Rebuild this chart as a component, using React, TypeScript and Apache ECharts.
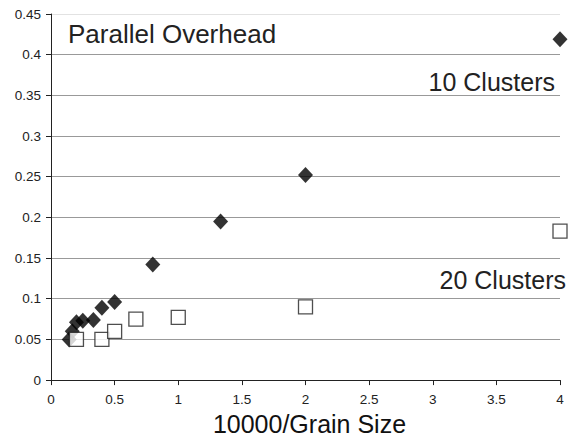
import React, { useEffect, useRef } from "react";
import * as echarts from "echarts";

const xTen = [0.143, 0.167, 0.2, 0.25, 0.333, 0.4, 0.5, 0.8, 1.333, 2, 4];
const yTen = [0.05, 0.06, 0.071, 0.073, 0.074, 0.089, 0.096, 0.142, 0.195, 0.252, 0.419];
const xTwenty = [0.2, 0.4, 0.5, 0.667, 1, 2, 4];
const yTwenty = [0.05, 0.05, 0.06, 0.075, 0.077, 0.09, 0.183];
const titleText = "Parallel Overhead";
const label10 = "10 Clusters";
const label20 = "20 Clusters";
const xName = "10000/Grain Size";

const FONT = "'Liberation Sans', Arial, Helvetica, sans-serif";

export default function App() {
  const ref = useRef<HTMLDivElement>(null);
  useEffect(() => {
    if (!ref.current) return;
    const chart = echarts.init(ref.current, null, { renderer: "svg" });
    const gridColors = ["#888", "#999", "#999", "#999", "#999", "#999", "#999", "#999", "#999", "#e2e2e2"];
    chart.setOption({
      animation: false,
      backgroundColor: "#fff",
      grid: { left: 51, right: 9, top: 14, bottom: 59, containLabel: false },
      xAxis: {
        type: "value",
        min: 0,
        max: 4,
        interval: 0.5,
        name: xName,
        nameLocation: "middle",
        nameGap: 29,
        nameTextStyle: { fontFamily: FONT, fontSize: 25, color: "#111", padding: [0, 0, 0, 8] },
        axisLine: { show: true, onZero: false, lineStyle: { color: "#222", width: 1 } },
        axisTick: { show: true, inside: false, length: 5, lineStyle: { color: "#222" } },
        axisLabel: { fontFamily: FONT, fontSize: 13.5, color: "#222", margin: 12 },
        splitLine: { show: false },
      },
      yAxis: {
        type: "value",
        min: 0,
        max: 0.45,
        interval: 0.05,
        axisLine: { show: true, onZero: false, lineStyle: { color: "#222", width: 1 } },
        axisTick: { show: true, inside: false, length: 5, lineStyle: { color: "#222" } },
        axisLabel: {
          fontFamily: FONT,
          fontSize: 13.5,
          color: "#222",
          margin: 10,
          formatter: (v: number) => String(parseFloat(v.toFixed(2))),
        },
        splitLine: { show: true, lineStyle: { color: gridColors, width: 1 } },
      },
      series: [
        {
          name: label10,
          type: "scatter",
          symbol: "diamond",
          symbolSize: [15, 16],
          itemStyle: { color: "#000" },
          data: xTen.map((x, i) => [x, yTen[i]]),
          z: 3,
        },
        {
          name: label20,
          type: "scatter",
          symbol: "rect",
          symbolSize: [14, 14],
          itemStyle: { color: "#fff", borderColor: "#222", borderWidth: 1.3 },
          data: xTwenty.map((x, i) => [x, yTwenty[i]]),
          z: 4,
        },
      ],
      graphic: [
        {
          type: "text",
          left: 68,
          top: 21,
          style: { text: titleText, font: `26px ${FONT}`, fill: "#222" },
        },
        {
          type: "text",
          right: 14,
          top: 69,
          style: { text: label10, font: `25px ${FONT}`, fill: "#222" },
        },
        {
          type: "text",
          right: 3,
          top: 267,
          style: { text: label20, font: `25px ${FONT}`, fill: "#222" },
        },
      ],
    });
    return () => chart.dispose();
  }, []);
  return <div ref={ref} style={{ width: 569, height: 441, position: "absolute", left: 0, top: 0 }} />;
}
